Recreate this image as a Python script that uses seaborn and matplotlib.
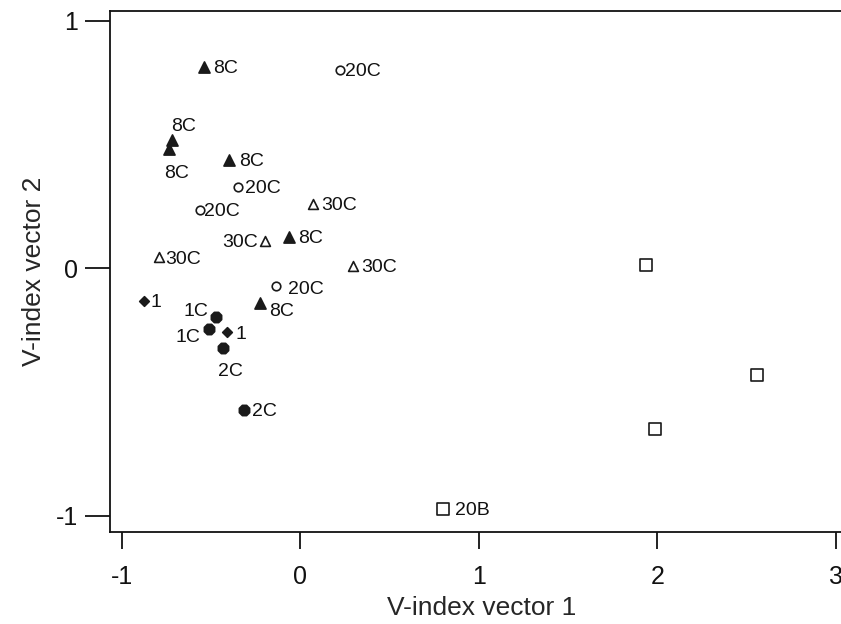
import matplotlib
matplotlib.use("Agg")
import matplotlib.pyplot as plt
import seaborn as sns
import pandas as pd

# ---- data ----
x_8c = [-0.539, -0.718, -0.735, -0.399, -0.063, -0.225]
y_8c = [0.814, 0.519, 0.483, 0.438, 0.127, -0.139]
x_20c = [0.223, -0.348, -0.561, -0.135]
y_20c = [0.802, 0.329, 0.236, -0.071]
x_30c = [0.071, -0.197, -0.791, 0.295]
y_30c = [0.261, 0.111, 0.046, 0.010]
x_1 = [-0.875, -0.410]
y_1 = [-0.131, -0.257]
x_1c = [-0.472, -0.511]
y_1c = [-0.196, -0.244]
x_2c = [-0.432, -0.315]
y_2c = [-0.321, -0.572]
x_20b = [1.937, 2.559, 1.988, 0.799]
y_20b = [0.014, -0.430, -0.648, -0.972]
labels_20b = ["", "", "", "20B"]

x_ticks = [-1, 0, 1, 2, 3]
y_ticks = [-1, 0, 1]
x_label = "V-index vector 1"
y_label = "V-index vector 2"

# label placement (style only): pixel offsets from marker and alignment
place_8c = [(9, 0, "left"), (12, 15, "center"), (8, -23, "center"),
            (10, 0, "left"), (9, 0, "left"), (9, -7, "left")]
place_20c = [(5, 0, "left"), (7, 0, "left"), (4, 0, "left"), (12, -2, "left")]
place_30c = [(8, 0, "left"), (-7, 0, "right"), (6, 0, "left"), (8, 0, "left")]
place_1 = [(6, 0, "left"), (8, 0, "left")]
place_1c = [(-8, 7, "right"), (-9, -7, "right")]
place_2c = [(7, -22, "center"), (8, 0, "left")]
place_20b = [(12, 0, "left")] * 4

sns.set_theme(style="white")
plt.rcParams["font.family"] = ["Liberation Sans", "DejaVu Sans"]

fig = plt.figure(figsize=(8.41, 6.24), dpi=100)
W, H = 841, 624
left_px, top_px, bottom_px = 110, 11, 532
xmin, xmax = -1.0655, 3.1
px_per_x = 178.5
right_px = left_px + (xmax - xmin) * px_per_x
ax = fig.add_axes([left_px / W, (H - bottom_px) / H,
                   (right_px - left_px) / W, (bottom_px - top_px) / H])

ec = "#1a1a1a"
groups = [
    (x_8c, y_8c, ["8C"] * 6, place_8c, "^", 64, True),
    (x_20c, y_20c, ["20C"] * 4, place_20c, "o", 38, False),
    (x_30c, y_30c, ["30C"] * 4, place_30c, "^", 50, False),
    (x_1, y_1, ["1"] * 2, place_1, "D", 24, True),
    (x_1c, y_1c, ["1C"] * 2, place_1c, "8", 64, True),
    (x_2c, y_2c, ["2C"] * 2, place_2c, "8", 64, True),
    (x_20b, y_20b, labels_20b, place_20b, "s", 72, False),
]

px2pt = 0.72
for xs, ys, labs, pl, mk, s, filled in groups:
    df = pd.DataFrame({"x": xs, "y": ys})
    sns.scatterplot(data=df, x="x", y="y", ax=ax, marker=mk, s=s,
                    facecolor=ec if filled else "white",
                    edgecolor=ec, linewidth=1.2, zorder=3)
    for xv, yv, lab, p in zip(xs, ys, labs, pl):
        if not lab:
            continue
        dx, dy, ha = p
        ax.annotate(lab, (xv, yv), xytext=(dx * px2pt, dy * px2pt),
                    textcoords="offset points",
                    ha=ha, va="center_baseline", fontsize=14, color="#111111")

ax.set_xlim(xmin, xmax)
ax.set_ylim(-1.065, 1.040)
ax.set_xticks(x_ticks)
ax.set_yticks(y_ticks)
ax.set_xticklabels([str(t) for t in x_ticks], fontsize=18)
ax.set_yticklabels([str(t) for t in y_ticks], fontsize=18)
ax.set_xlabel(x_label, fontsize=19, labelpad=5)
ax.set_ylabel(y_label, fontsize=19, labelpad=7)

for sp in ["left", "top", "bottom"]:
    ax.spines[sp].set_visible(True)
    ax.spines[sp].set_color("#111111")
    ax.spines[sp].set_linewidth(1.3)
ax.spines["right"].set_visible(False)

ax.tick_params(axis="y", direction="out", length=18, width=1.3, color="#111111",
               left=True, pad=5, labelcolor="#111111")
ax.tick_params(axis="x", direction="out", length=12, width=1.3, color="#111111",
               bottom=True, pad=12, labelcolor="#111111")
ax.grid(False)

fig.savefig("out.png", dpi=100)
